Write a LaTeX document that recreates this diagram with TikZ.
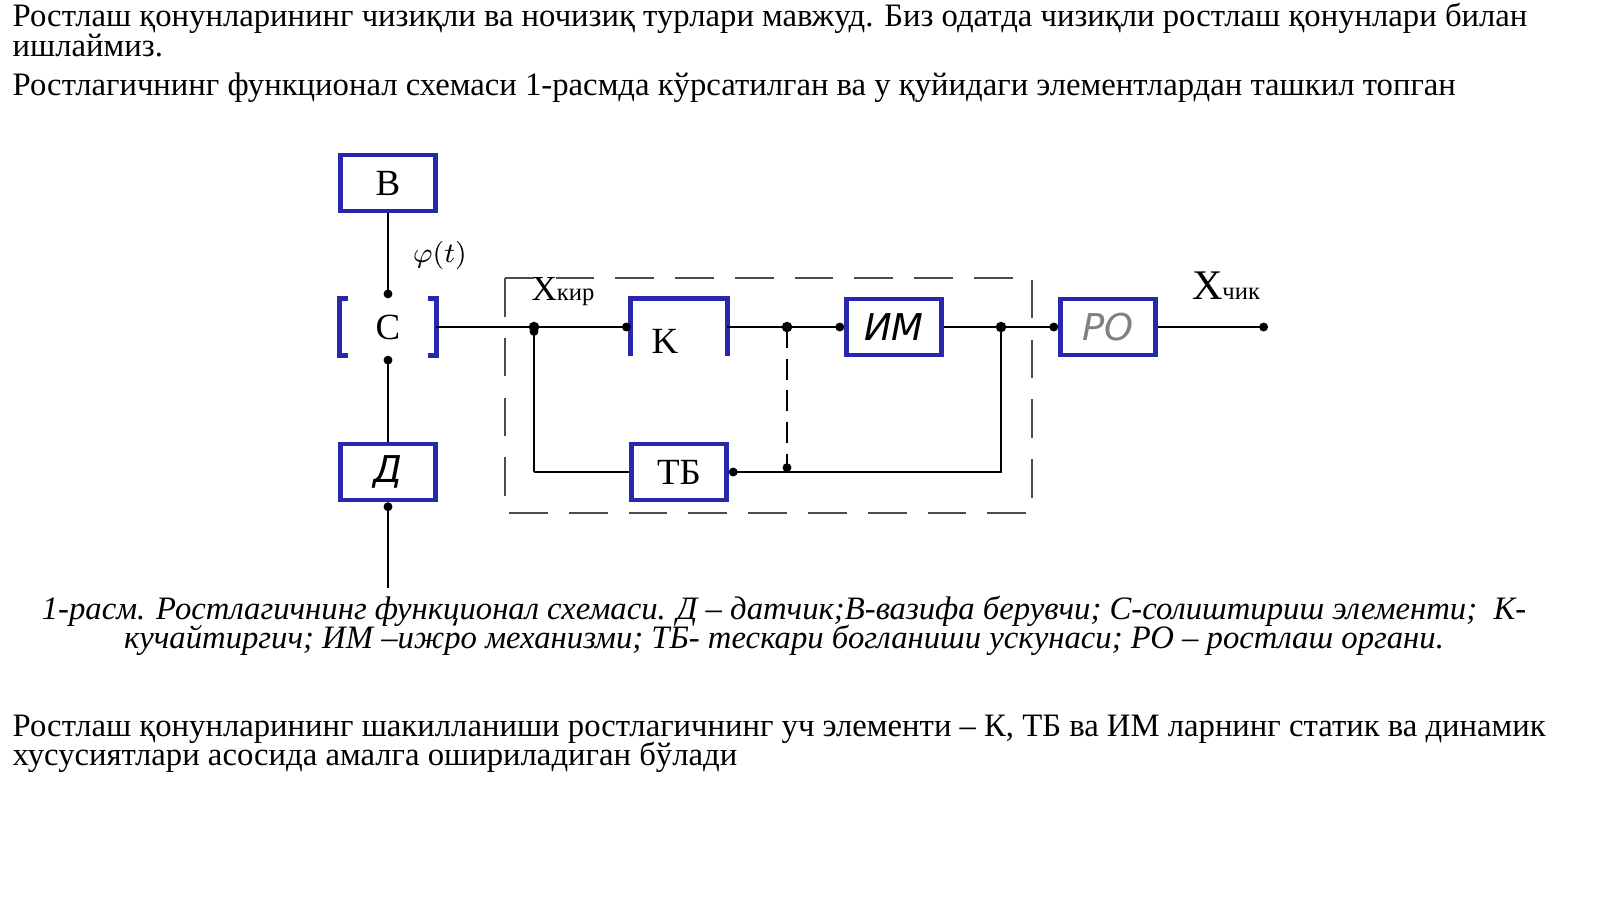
\documentclass[tikz,border=0pt]{standalone}
\usepackage{fontspec}
\setmainfont{Liberation Serif}
\newfontfamily\gostfont{DejaVu Sans}
\usetikzlibrary{arrows.meta}
\definecolor{boxblue}{RGB}{40,40,170}
\begin{document}
\begin{tikzpicture}[x=0.01cm,y=-0.01cm,
    blk/.style={draw=boxblue,line width=1.3pt,minimum width=0.95cm,minimum height=0.56cm,inner sep=0pt,font=\fontsize{10.5}{10}\selectfont},
    openblk/.style={minimum width=0.95cm,minimum height=0.56cm,inner sep=0pt,font=\fontsize{10.5}{10}\selectfont},
    sig/.style={-{Circle[length=2.5pt]},line width=0.5pt},
    wire/.style={line width=0.5pt},
    txt/.style={anchor=west,inner sep=0pt,font=\fontsize{9.3}{8}\selectfont},
    captxt/.style={inner sep=0pt,font=\fontsize{9.3}{8}\selectfont\itshape}]
\useasboundingbox (0,0) rectangle (1600,899);
% text above
\node[txt] (t1) at (12,18) {Ростлаш қонунларининг чизиқли ва ночизиқ турлари мавжуд. Биз одатда чизиқли ростлаш қонунлари билан};
\node[txt] (t2) at (12,46) {ишлаймиз.};
\node[txt] (t3) at (12,88) {Ростлагичнинг функционал схемаси 1-расмда кўрсатилган ва у қуйидаги элементлардан ташкил топган};
% blocks
\node[blk] (B) at (388,183) {B};
\node[openblk] (C) at (388,327) {C};
\node[blk] (D) at (388,472) {\gostfont\itshape Д};
\node[openblk] (K) at (679,327) {};
\node[font=\fontsize{10.5}{10}\selectfont] (Kt) at (665,341) {K};
\node[blk] (IM) at (894,327) {\gostfont\itshape ИМ};
\node[blk] (TB) at (679,472) {ТБ};
\node[blk,text=gray] (RO) at (1108,327) {\gostfont\itshape РО};
\draw[boxblue,line width=1.3pt] (C.north west)++(8,0) -| (C.south west) -- ++(8,0)
    (C.north east)++(-8,0) -| (C.south east) -- ++(-8,0)
    (K.south west) |- (K.north east) -- (K.south east);
% frame
\draw[dashed,dash pattern=on 11pt off 6pt,line width=0.7pt,gray!60!black] (505,278) rectangle (1032,513);
% connections
\coordinate (j1) at (534,327);
\coordinate (j2) at (787,327);
\coordinate (j3) at (1001,327);
\coordinate (f2) at (787,472);
\coordinate (f3) at (1001,472);
\coordinate (j1b) at (534,472);
\coordinate (in) at (388,588);
\coordinate (out) at (1268,327);
\draw[sig] (B) -- (C.north);
\draw[sig] (D) -- (C.south);
\draw[sig] (in) -- (D);
\draw[wire] (C.east) -- (j1);
\draw[sig] (j1) -- (K.west);
\draw[wire] (K.east) -- (j2);
\draw[sig] (j2) -- (IM);
\draw[wire] (IM) -- (j3);
\draw[sig] (j3) -- (RO);
\draw[sig] (RO) -- (out);
\draw[sig] (j3) -- (f3) -- (TB.east);
\draw[wire] (TB.west) -- (j1b);
\draw[sig] (j1b) -- (j1);
\draw[sig,dashed,dash pattern=on 6pt off 3pt] (j2) -- (f2);
\foreach \p in {j1,j2,j3} \fill (\p) circle (1.5pt);
% labels
\node[font=\fontsize{8}{8}\selectfont\itshape] (phi) at (440,255) {$\varphi(t)$};
\node[font=\fontsize{10}{10}\selectfont] (xin) at (563,292) {X\fontsize{7}{7}\selectfont кир};
\node[font=\fontsize{12}{12}\selectfont] (xout) at (1226,286) {X\fontsize{7}{7}\selectfont чик};
% caption and text below
\node[captxt] (c1) at (784,611) {1-расм. Ростлагичнинг функционал схемаси. Д – датчик;В-вазифа берувчи; С-солиштириш элементи;\ \ К-};
\node[captxt] (c2) at (784,640) {кучайтиргич; ИМ –ижро механизми; ТБ- тескари богланиши ускунаси; РО – ростлаш органи.};
\node[txt] (t4) at (12,729) {Ростлаш қонунларининг шакилланиши ростлагичнинг уч элементи – К, ТБ ва ИМ ларнинг статик ва динамик};
\node[txt] (t5) at (12,757) {хусусиятлари асосида амалга ошириладиган бўлади};
\end{tikzpicture}
\end{document}
